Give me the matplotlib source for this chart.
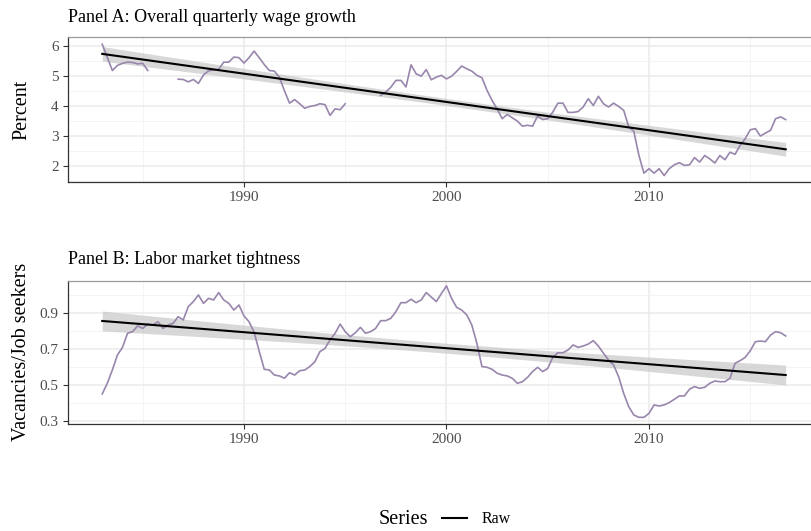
import numpy as np
import matplotlib
matplotlib.use("Agg")
import matplotlib.pyplot as plt
from matplotlib.ticker import MultipleLocator, FixedLocator
from matplotlib.lines import Line2D

# Quarterly observations, 1983Q1 - 2016Q4
quarters = np.arange(1983, 2017, 0.25)

nan = np.nan
wage_growth = [
    6.06, 5.62, 5.18, 5.35, 5.42, 5.46, 5.45, 5.40, 5.42, 5.18,
    nan, nan, nan, nan, nan,
    4.89, 4.88, 4.80, 4.88, 4.75, 5.03, 5.17, 5.20, 5.22, 5.46,
    5.46, 5.63, 5.61, 5.43, 5.61, 5.83, 5.61, 5.38, 5.18, 5.16,
    4.95, 4.50, 4.09, 4.21, 4.07, 3.92, 3.98, 4.01, 4.07, 4.04,
    3.68, 3.90, 3.87, 4.07,
    nan, nan, nan, nan, nan, nan,
    4.35, 4.46, 4.62, 4.85, 4.85, 4.63, 5.37, 5.07, 4.99, 5.21,
    4.87, 4.96, 5.02, 4.90,
    4.99, 5.15, 5.33, 5.24, 5.16, 5.02, 4.94, 4.52, 4.18, 3.90,
    3.57, 3.71, 3.60, 3.49, 3.32, 3.35, 3.32, 3.66, 3.54, 3.57,
    3.79, 4.09, 4.09, 3.78, 3.78, 3.81, 3.96, 4.24, 4.01, 4.32,
    4.07, 3.96, 4.09, 3.98, 3.85,
    3.30, 3.15, 2.35, 1.75, 1.90, 1.75, 1.90, 1.67, 1.90, 2.03,
    2.10, 2.01, 2.03, 2.27, 2.12, 2.34, 2.23, 2.09, 2.34, 2.20,
    2.45, 2.38, 2.68, 2.90, 3.20, 3.24, 2.99, 3.09, 3.18, 3.57,
    3.63, 3.54,
]

tightness = [
    0.452, 0.511, 0.585, 0.668, 0.711, 0.789, 0.798, 0.830, 0.816, 0.840,
    0.835, 0.853, 0.816, 0.835, 0.844, 0.881, 0.863, 0.937, 0.965, 1.002,
    0.955, 0.983, 0.974, 1.015, 0.974, 0.955, 0.918, 0.946, 0.885, 0.853,
    0.795, 0.690, 0.589, 0.585, 0.557, 0.552, 0.539, 0.570, 0.557, 0.581,
    0.585, 0.604, 0.631, 0.687, 0.705, 0.752, 0.789, 0.840, 0.798, 0.770,
    0.792, 0.822, 0.789, 0.798, 0.816, 0.859, 0.859, 0.872, 0.909, 0.959,
    0.959, 0.978, 0.959, 0.974, 1.015, 0.990, 0.965, 1.010, 1.052, 0.983,
    0.933, 0.918, 0.891, 0.835, 0.733, 0.604, 0.600, 0.589, 0.567, 0.557,
    0.552, 0.539, 0.511, 0.520, 0.544, 0.576, 0.600, 0.576, 0.594, 0.655,
    0.681, 0.681, 0.696, 0.724, 0.711, 0.718, 0.729, 0.748, 0.718, 0.678,
    0.641, 0.613, 0.548, 0.455, 0.381, 0.335, 0.322, 0.322, 0.344, 0.391,
    0.385, 0.391, 0.404, 0.422, 0.441, 0.441, 0.478, 0.493, 0.483, 0.489,
    0.511, 0.524, 0.520, 0.520, 0.539, 0.622, 0.637, 0.655, 0.692, 0.742,
    0.746, 0.742, 0.779, 0.798, 0.792, 0.774,
]

panel_titles = ["Panel A: Overall quarterly wage growth",
                "Panel B: Labor market tightness"]
y_titles = ["Percent", "Vacancies/Job seekers"]
x_ticks = [1990, 2000, 2010]
x_minor = [1985, 1995, 2005, 2015]
y_ticks_a = [2, 3, 4, 5, 6]
y_ticks_b = [0.3, 0.5, 0.7, 0.9]
legend_title = "Series"
legend_label = "Raw"

SERIES_COLOR = "#9886ad"
SERIF = ["Liberation Serif", "DejaVu Serif"]
plt.rcParams["font.family"] = SERIF

W, H = 811, 531
fig = plt.figure(figsize=(W / 100, H / 100), dpi=100)


def px_axes(left, top, right, bottom):
    return fig.add_axes([left / W, 1 - bottom / H, (right - left) / W, (bottom - top) / H])


def lm_band(x, y, grid, t=1.98):
    x = np.asarray(x, float)
    y = np.asarray(y, float)
    ok = ~np.isnan(y)
    x, y = x[ok], y[ok]
    n = len(x)
    b1, b0 = np.polyfit(x, y, 1)
    resid = y - (b0 + b1 * x)
    s = np.sqrt(np.sum(resid ** 2) / (n - 2))
    xbar = x.mean()
    sxx = np.sum((x - xbar) ** 2)
    fit = b0 + b1 * grid
    se = s * np.sqrt(1 / n + (grid - xbar) ** 2 / sxx)
    return fit, fit - t * se, fit + t * se


def style_axes(ax, yticks, yminor, ylim, fmt):
    ax.set_xlim(1981.29, 2018.0)
    ax.set_ylim(*ylim)
    ax.set_facecolor("white")
    ax.xaxis.set_major_locator(FixedLocator(x_ticks))
    ax.xaxis.set_minor_locator(FixedLocator(x_minor))
    ax.yaxis.set_major_locator(FixedLocator(yticks))
    ax.yaxis.set_minor_locator(MultipleLocator(yminor))
    ax.set_yticklabels([fmt(v) for v in yticks])
    ax.grid(which="major", color="#ebebeb", linewidth=1.1)
    ax.grid(which="minor", color="#f2f2f2", linewidth=0.6)
    ax.set_axisbelow(True)
    ax.tick_params(which="major", length=3.5, width=0.8, color="#333333",
                   labelsize=11, labelcolor="#4d4d4d", pad=3)
    ax.tick_params(which="minor", length=0)
    ax.spines["right"].set_visible(False)
    ax.spines["top"].set_color("#9a9a9a")
    ax.spines["left"].set_color("#333333")
    ax.spines["bottom"].set_color("#333333")
    for s in ax.spines.values():
        s.set_linewidth(0.9)


grid_x = np.linspace(quarters[0], quarters[-1], 200)

ax_a = px_axes(67.6, 37, 811, 182)
fit, lo, hi = lm_band(quarters, wage_growth, grid_x)
ax_a.fill_between(grid_x, lo, hi, color="#c8c8c8", alpha=0.7, linewidth=0, zorder=2)
ax_a.plot(quarters, wage_growth, color=SERIES_COLOR, linewidth=1.2, zorder=3)
ax_a.plot(grid_x, fit, color="black", linewidth=1.5, zorder=4)
style_axes(ax_a, y_ticks_a, 0.5, (1.455, 6.30), lambda v: f"{v:g}")

ax_b = px_axes(67.6, 280.7, 811, 424)
fit, lo, hi = lm_band(quarters, tightness, grid_x)
ax_b.fill_between(grid_x, lo, hi, color="#c8c8c8", alpha=0.7, linewidth=0, zorder=2)
ax_b.plot(quarters, tightness, color=SERIES_COLOR, linewidth=1.2, zorder=3)
ax_b.plot(grid_x, fit, color="black", linewidth=1.5, zorder=4)
style_axes(ax_b, y_ticks_b, 0.1, (0.285, 1.081), lambda v: f"{v:.1f}")

# Panel titles and axis titles
fig.text(68 / W, 1 - 17 / H, panel_titles[0], fontsize=13, va="center", ha="left", color="black")
fig.text(68 / W, 1 - 260 / H, panel_titles[1], fontsize=13, va="center", ha="left", color="black")
fig.text(22 / W, 1 - 109.5 / H, y_titles[0], fontsize=14.5, rotation=90, va="center", ha="center")
fig.text(22 / W, 1 - 352 / H, y_titles[1], fontsize=14.5, rotation=90, va="center", ha="center")

# Legend at the bottom
fig.text(403 / W, 1 - 519 / H, legend_title, fontsize=14.5, va="center", ha="center")
fig.add_artist(Line2D([441.7 / W, 467.3 / W], [1 - 518 / H, 1 - 518 / H],
                      color="black", linewidth=1.5, transform=fig.transFigure))
fig.text(482 / W, 1 - 519 / H, legend_label, fontsize=11.5, va="center", ha="left")

fig.savefig("out.png", dpi=100, facecolor="white")
